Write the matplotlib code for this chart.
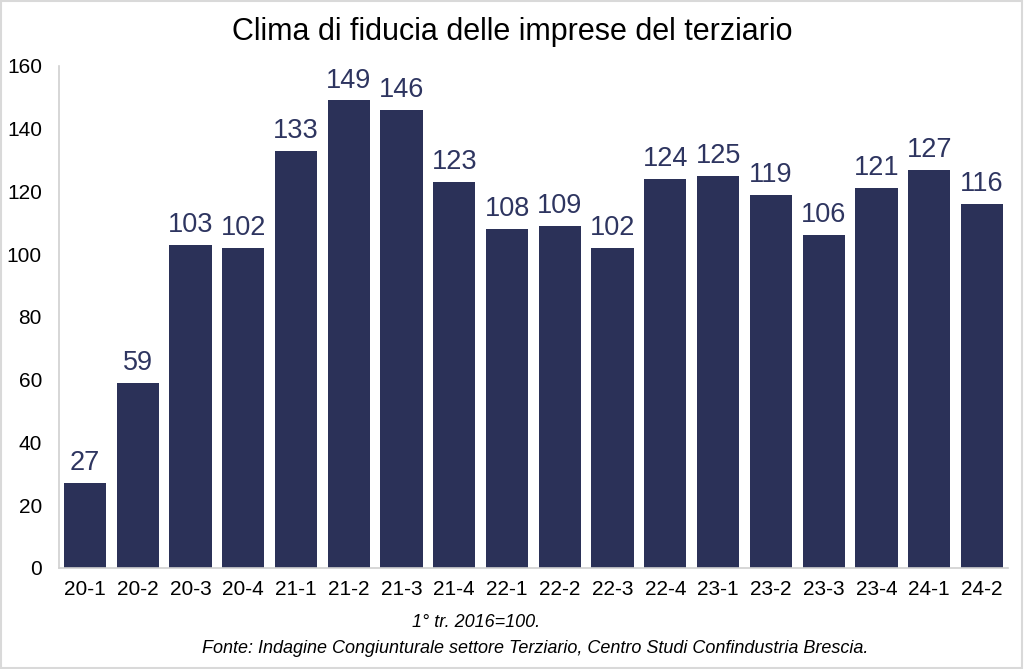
import matplotlib
matplotlib.use("Agg")
import matplotlib.pyplot as plt
from matplotlib.patches import Rectangle

categories = ["20-1", "20-2", "20-3", "20-4", "21-1", "21-2", "21-3", "21-4", "22-1",
              "22-2", "22-3", "22-4", "23-1", "23-2", "23-3", "23-4", "24-1", "24-2"]
values = [27, 59, 103, 102, 133, 149, 146, 123, 108, 109, 102, 124, 125, 119, 106, 121, 127, 116]
yticks = [0, 20, 40, 60, 80, 100, 120, 140, 160]

plt.rcParams['font.family'] = ['Liberation Sans', 'DejaVu Sans']

fig = plt.figure(figsize=(10.24, 6.69), dpi=100)
ax = fig.add_axes([0.0572, 0.151, 0.9275, 0.7504])

bar_color = "#2B3158"
x = list(range(len(categories)))
bars = ax.bar(x, values, width=0.8, color=bar_color)
for xi, v in zip(x, values):
    ax.text(xi, v + 2.2, str(v), ha="center", va="bottom", fontsize=19.5, color="#2E3560")

ax.set_xlim(-0.5, len(categories) - 0.5)
ax.set_ylim(0, 160)
ax.set_yticks(yticks)
ax.set_yticklabels([str(t) for t in yticks], fontsize=15)
ax.set_xticks(x)
ax.set_xticklabels(categories, fontsize=15)
ax.tick_params(axis="both", length=0, colors="black")
ax.tick_params(axis="y", pad=12)
ax.tick_params(axis="x", pad=9)
for s in ["top", "right"]:
    ax.spines[s].set_visible(False)
for s in ["left", "bottom"]:
    ax.spines[s].set_color("#D0D0D0")
    ax.spines[s].set_linewidth(1.2)

fig.text(0.5, 0.952, "Clima di fiducia delle imprese del terziario", ha="center", va="center", fontsize=22)
fig.text(0.465, 0.069, "1° tr. 2016=100.", ha="center", va="center", fontsize=13, style="italic")
fig.text(0.523, 0.031, "Fonte: Indagine Congiunturale settore Terziario, Centro Studi Confindustria Brescia.",
         ha="center", va="center", fontsize=13, style="italic")

fig.patches.append(Rectangle((0.001, 0.001), 0.997, 0.997, transform=fig.transFigure,
                             fill=False, edgecolor="#D9D9D9", linewidth=1.5))

fig.savefig("out.png", dpi=100)
